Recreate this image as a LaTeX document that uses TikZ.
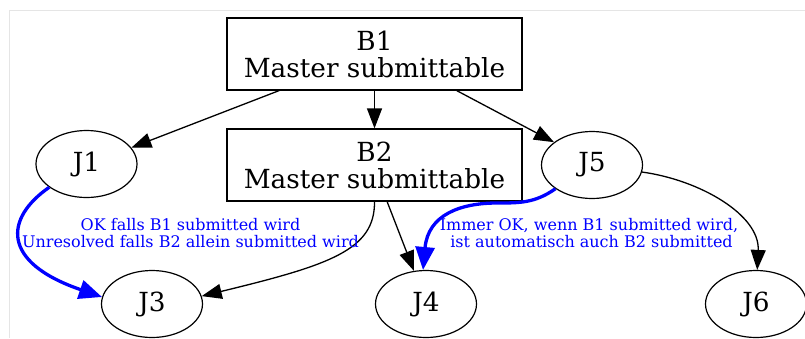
\documentclass[tikz,border=0pt]{standalone}
\usepackage{fontspec}
\setmainfont{DejaVu Serif}
\usetikzlibrary{arrows.meta,shapes.geometric}
\begin{document}
\begin{tikzpicture}[x=1pt,y=-1pt,
  box/.style={draw,line width=1.2pt,rectangle,minimum width=295pt,minimum height=72pt,inner sep=0pt,align=center,font=\fontsize{26.3}{27}\selectfont},
  job/.style={draw,line width=1.2pt,ellipse,minimum width=101pt,minimum height=67pt,inner sep=0pt,font=\fontsize{26.3}{27}\selectfont},
  edge/.style={line width=1.3pt,-{Triangle[length=20pt,width=15pt]}},
  blueedge/.style={line width=3.3pt,blue,-{Triangle[length=23pt,width=19pt]}},
  lbl/.style={text=blue,align=center,inner sep=0pt,font=\fontsize{16}{16.5}\selectfont}]
\useasboundingbox (0,0) rectangle (805,338);
\draw[line width=1pt,color=black!10] (9.5,338) -- (9.5,10.5) coordinate (frameTL) -- (805,10.5);
\node[box] (B1) at (374.5,54) {B1\\Master submittable};
\node[box] (B2) at (374.5,165) {B2\\Master submittable};
\node[job] (J1) at (86.5,164) {J1};
\node[job] (J5) at (592,165) {J5};
\node[job] (J3) at (152,304) {J3};
\node[job] (J4) at (426,304) {J4};
\node[job] (J6) at (756,304) {J6};
\draw[edge] (B1.-159) -- (J1.20);
\draw[edge] (B1.south) -- (B2.north);
\draw[edge] (B1.-24) -- (J5.149);
\draw[blueedge] (J1.-148) .. controls (5,218) and (0,262) .. (J3.172);
\draw[edge] (B2.south) .. controls (375,250) and (330,265) .. (J3.9);
\draw[edge] (B2.-71) -- (J4.110);
\draw[blueedge] (J5.-147) .. controls (535,203) and (520,203) .. (497,203) .. controls (460,203) and (428,215) .. (J4.95);
\draw[edge] (J5.-8) .. controls (700,180) and (760,215) .. (J6.88);
\node[lbl] (L1) at (190.5,233) {OK falls B1 submitted wird\\Unresolved falls B2 allein submitted wird};
\node[lbl] (L2) at (589,233) {Immer OK, wenn B1 submitted wird,\\\ ist automatisch auch B2 submitted};
\end{tikzpicture}
\end{document}
